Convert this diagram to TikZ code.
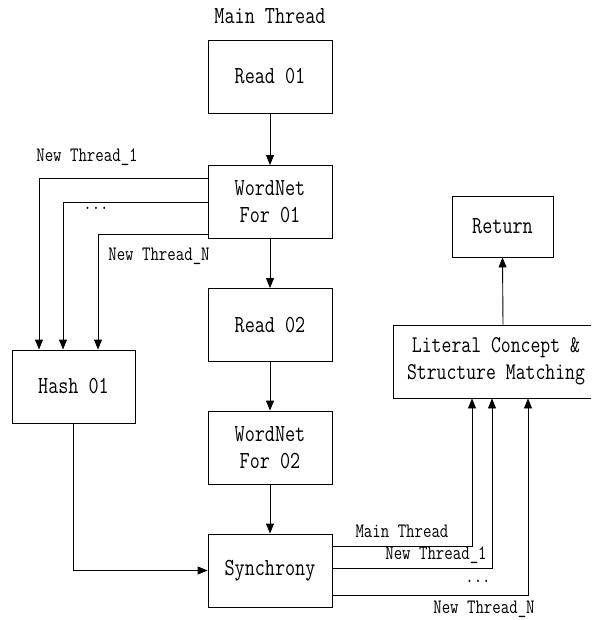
\documentclass[tikz,border=0pt]{standalone}
\usepackage{fontspec}
\newfontfamily\dfont{Latin Modern Mono}[FakeStretch=0.8]
\usetikzlibrary{arrows.meta}
\begin{document}
\begin{tikzpicture}[x=1pt,y=-1pt,
  box/.style={draw,line width=0.9pt,minimum width=124pt,minimum height=73pt,inner sep=0pt,
    font=\dfont\fontsize{24.5}{27}\selectfont,align=center},
  lbl/.style={font=\dfont\fontsize{20.5}{22}\selectfont,inner sep=0pt},
  arr/.style={line width=0.9pt,-{Triangle[length=10pt,width=8pt]}},
  ln/.style={line width=0.9pt}]
\useasboundingbox (0,0) rectangle (591,620);
\clip (0,0) rectangle (591,620);
\node[inner sep=0pt,font=\dfont\fontsize{24.5}{27}\selectfont] (mt) at (270,16) {Main Thread};
\node[box] (read1) at (270,76.5) {Read 01};
\node[box] (wn1) at (270,202) {WordNet\\For 01};
\node[box] (read2) at (270,325) {Read 02};
\node[box] (wn2) at (270,447.5) {WordNet\\For 02};
\node[box] (sync) at (270,570.5) {Synchrony};
\node[box,minimum width=123pt] (hash) at (73.5,386.5) {Hash 01};
\node[box,minimum width=101pt,minimum height=61pt] (ret) at (502.5,226.5) {Return};
\node[box,minimum width=206pt,font=\dfont\fontsize{24}{27}\selectfont] (lit) at (496,361.5) {Literal Concept \&\\Structure Matching};

\draw[arr] (read1) -- (wn1);
\draw[arr] (wn1) -- (read2);
\draw[arr] (read2) -- (wn2);
\draw[arr] (wn2) -- (sync);
\draw[arr] ([xshift=7pt]lit.north) -- (ret.south);

\draw[arr] ([yshift=24pt]wn1.west) -| ([xshift=-34.5pt]hash.north);
\draw[arr] (wn1.west) -| ([xshift=-10.5pt]hash.north);
\draw[arr] ([yshift=-32pt]wn1.west) -| ([xshift=24.5pt]hash.north);
\draw[arr] (hash.south) |- (sync.west);

\draw[arr] ([yshift=24.5pt]sync.east) -| ([xshift=-24pt]lit.south);
\draw[arr] ([yshift=2.5pt]sync.east) -| ([xshift=-4pt]lit.south);
\draw[arr] ([yshift=-24.5pt]sync.east) -| ([xshift=32pt]lit.south);

\node[lbl] (l1) at (87,157) {New Thread\_1};
\node[lbl] (d1) at (96,208) {...};
\node[lbl] (ln1) at (159,256) {New Thread\_N};
\node[lbl] (l2) at (402,531) {Main Thread};
\node[lbl] (l3) at (436,555) {New Thread\_1};
\node[lbl] (d2) at (478,581) {...};
\node[lbl] (l4) at (484,609) {New Thread\_N};
\end{tikzpicture}
\end{document}
